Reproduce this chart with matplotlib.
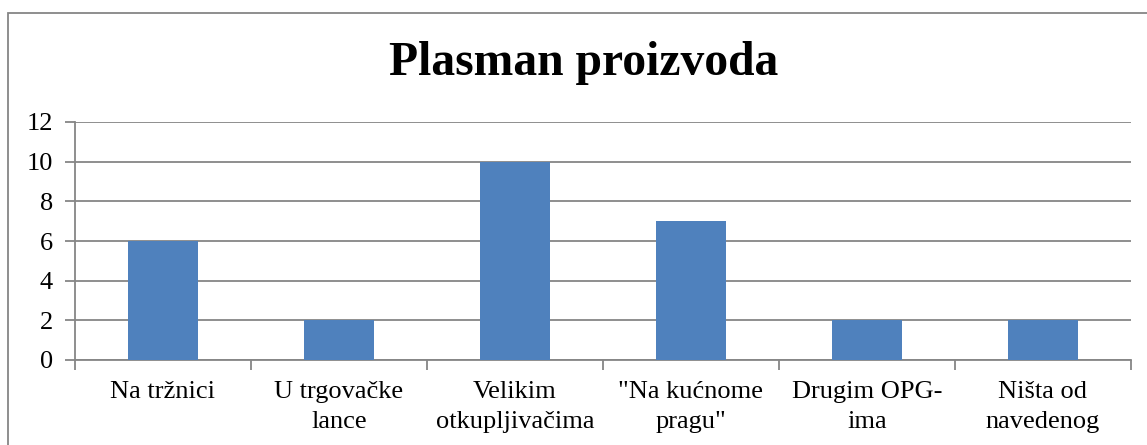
import matplotlib
matplotlib.use("Agg")
import matplotlib.pyplot as plt
from matplotlib.patches import Rectangle

categories = ["Na tržnici", "U trgovačke\nlance", "Velikim\notkupljivačima",
              "\"Na kućnome\npragu\"", "Drugim OPG-\nima", "Ništa od\nnavedenog"]
values = [6, 2, 10, 7, 2, 2]
yticks = [0, 2, 4, 6, 8, 10, 12]

plt.rcParams['font.family'] = ['Liberation Serif', 'DejaVu Serif']

W, H = 1147, 445
fig = plt.figure(figsize=(W/100, H/100), dpi=100)
ax = fig.add_axes([75/W, 1-360/H, (1131-75)/W, (360-122)/H])

gray = '#868686'
x = list(range(len(categories)))
ax.bar(x, values, width=0.40, color='#4F81BD', zorder=3)
ax.set_xlim(-0.5, len(categories)-0.5)
ax.set_ylim(0, 12)
ax.set_yticks(yticks)
ax.set_yticklabels([str(t) for t in yticks], fontsize=19)
ax.yaxis.grid(True, color=gray, linewidth=1.3, zorder=0)
ax.set_axisbelow(True)
ax.set_xticks(x)
ax.set_xticklabels(categories, fontsize=19, linespacing=1.5)
ax.tick_params(axis='x', length=0, pad=15)
ax.set_xticks([i - 0.5 for i in range(len(categories)+1)], minor=True)
ax.tick_params(axis='x', which='minor', length=7, color=gray, width=1.3)
ax.tick_params(axis='y', length=7, color=gray, width=1.3, pad=9)
for s in ['top', 'right']:
    ax.spines[s].set_visible(False)
for s in ['left', 'bottom']:
    ax.spines[s].set_color(gray)
    ax.spines[s].set_linewidth(1.3)

fig.text(584/W, 1-75/H, "Plasman proizvoda", ha='center', va='baseline',
         fontsize=34.3, fontweight='bold')

fig.patches.append(Rectangle((8/W, -0.1), 1.2, 1-13/H+0.1, transform=fig.transFigure,
                             fill=False, edgecolor=gray, linewidth=1.3))

fig.savefig("out.png", dpi=100)
